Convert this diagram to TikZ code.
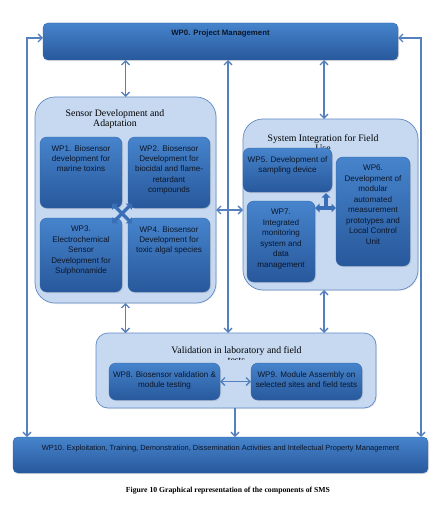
\documentclass[tikz,border=0pt]{standalone}
\usepackage{fontspec}
\setmainfont{Liberation Serif}
\newfontfamily\arial{Liberation Sans}
\usetikzlibrary{arrows.meta,shadows,calc}
\definecolor{wptop}{RGB}{70,132,204}
\definecolor{wpbot}{RGB}{40,88,156}
\definecolor{wpedge}{RGB}{52,100,168}
\definecolor{grpfill}{RGB}{198,217,241}
\definecolor{grpedge}{RGB}{96,138,196}
\definecolor{linecol}{RGB}{84,128,190}
\definecolor{wptxt}{RGB}{12,22,40}
\definecolor{blockcol}{RGB}{58,110,182}
\tikzset{
  wpbox/.style={rounded corners=7pt, draw=wpedge, line width=0.4pt, top color=wptop, bottom color=wpbot, outer sep=0pt, inner sep=0pt,
    drop shadow={opacity=0.25, shadow xshift=1pt, shadow yshift=-1.2pt}},
  barbox/.style={wpbox, rounded corners=5pt},
  grpbox/.style={draw=grpedge, fill=grpfill, line width=0.7pt, outer sep=0pt, inner sep=0pt,
    drop shadow={opacity=0.15, shadow xshift=1pt, shadow yshift=-1pt}},
  wptext/.style={font=\arial\fontsize{8.1}{10.45}\selectfont, align=center, inner sep=0pt, anchor=north, text=wptxt},
  grptitle/.style={font=\fontsize{9.8}{10}\selectfont, align=center, inner sep=0pt, anchor=north, text=black},
  conn/.style={draw=linecol, line width=1.3pt, {Straight Barb[length=4pt,width=8pt]}-{Straight Barb[length=4pt,width=8pt]}},
  conn1/.style={draw=linecol, line width=1.3pt, -{Straight Barb[length=4pt,width=8pt]}},
  blockarr/.style={draw=blockcol, line width=3.2pt, {Triangle[length=4.5pt,width=8.5pt]}-{Triangle[length=4.5pt,width=8.5pt]}},
  blockarr1/.style={draw=blockcol, line width=3.2pt, -{Triangle[length=4.5pt,width=8.5pt]}},
}
\begin{document}
\begin{tikzpicture}[x=1pt,y=-1pt]
\useasboundingbox (0,0) rectangle (444,508);
\fill[white] (0,0) rectangle (444,508);

% group boxes
\node[grpbox, rounded corners=20pt, minimum width=181pt, minimum height=206pt] (sens) at (125.5,200) {};
\node[grpbox, rounded corners=20pt, minimum width=175pt, minimum height=171pt] (sys) at (330.5,204.5) {};
\node[grpbox, rounded corners=12pt, minimum width=280pt, minimum height=75pt] (val) at (236,370.5) {};

% group titles
\node[grptitle] (senst) at (115,109.5) {Sensor Development and\\Adaptation};
\node[grptitle] (syst) at (323,134) {System Integration for Field\\Use};
\begin{scope}
  \clip (96,333) rectangle (376,359.5);
  \node[grptitle] (valt) at (236.5,346.5) {Validation in laboratory and field\\tests};
\end{scope}

% bars
\node[barbox, minimum width=355pt, minimum height=37pt] (wp0) at (220.5,41.5) {};
\node[barbox, minimum width=415pt, minimum height=36pt] (wp10) at (220.5,455) {};

% WP boxes
\node[wpbox, minimum width=82pt, minimum height=71pt] (wp1) at (81,172.5) {};
\node[wpbox, minimum width=82pt, minimum height=71pt] (wp2) at (169,172.5) {};
\node[wpbox, minimum width=82pt, minimum height=74pt] (wp3) at (81,255) {};
\node[wpbox, minimum width=82pt, minimum height=74pt] (wp4) at (169,255) {};
\node[wpbox, minimum width=89pt, minimum height=44pt] (wp5) at (287.5,170) {};
\node[wpbox, minimum width=74pt, minimum height=109pt] (wp6) at (373,211.5) {};
\node[wpbox, minimum width=68pt, minimum height=81pt] (wp7) at (281,241.5) {};
\node[wpbox, minimum width=111pt, minimum height=37pt] (wp8) at (164.5,381.5) {};
\node[wpbox, minimum width=111pt, minimum height=37pt] (wp9) at (306.5,381.5) {};

% texts
\node[wptext, font=\arial\bfseries\fontsize{7.8}{10}\selectfont] (t0) at ($(wp0.north)+(0,7)$) {WP0. Project Management};
\node[wptext, font=\arial\fontsize{7.45}{10}\selectfont] (t10) at ($(wp10.north)+(0,8)$) {WP10. Exploitation, Training, Demonstration, Dissemination Activities and Intellectual Property Management};
\node[wptext] (t1) at ($(wp1.north)+(0,8)$) {WP1. Biosensor\\development for\\marine toxins};
\node[wptext] (t2) at ($(wp2.north)+(0,8)$) {WP2. Biosensor\\Development for\\biocidal and flame-\\retardant\\compounds};
\node[wptext] (t3) at ($(wp3.north)+(0,8)$) {WP3.\\Electrochemical\\Sensor\\Development for\\Sulphonamide};
\node[wptext] (t4) at ($(wp4.north)+(0,8)$) {WP4. Biosensor\\Development for\\toxic algal species};
\node[wptext] (t5) at ($(wp5.north)+(0,8)$) {WP5. Development of\\sampling device};
\node[wptext] (t6) at ($(wp6.north)+(0,8)$) {WP6.\\Development of\\modular\\automated\\measurement\\prototypes and\\Local Control\\Unit};
\node[wptext] (t7) at ($(wp7.north)+(0,8)$) {WP7.\\Integrated\\monitoring\\system and\\data\\management};
\node[wptext] (t8) at ($(wp8.north)+(0,8)$) {WP8. Biosensor validation \&\\module testing};
\node[wptext] (t9) at ($(wp9.north)+(0,8)$) {WP9. Module Assembly on\\selected sites and field tests};

% helper coordinates
\coordinate (lx) at (27,38);
\coordinate (rx) at (421,38);
\coordinate (mx) at (228,0);
\coordinate (sx) at (324,0);
\coordinate (vx) at (235,0);
\coordinate (cy) at (0,210);

% connectors
\draw[conn] (wp10.north -| lx) -- (lx) -- (wp0.west |- lx);
\draw[conn] (wp10.north -| rx) -- (rx) -- (wp0.east |- rx);
\draw[conn] (wp0.south -| sens.north) -- (sens.north);
\draw[conn] (wp0.south -| mx) -- (val.north -| mx);
\draw[conn] (wp0.south -| sx) -- (sys.north -| sx);
\draw[conn] (sys.south -| sx) -- (val.north -| sx);
\draw[conn] (sens.south) -- (val.north -| sens.south);
\draw[conn] (sens.east |- cy) -- (sys.west |- cy);
\draw[conn] (wp8.east) -- (wp9.west);
\draw[conn1] (val.south -| vx) -- (wp10.north -| vx);

% block arrows
\coordinate (qa) at (122,213.5);
\draw[blockarr] ($(qa)+(-10,-10)$) -- ($(qa)+(10,10)$);
\draw[blockarr] ($(qa)+(-10,10)$) -- ($(qa)+(10,-10)$);
\coordinate (ta) at (326,208);
\draw[blockarr] ($(ta)+(-11,0)$) -- ($(ta)+(10,0)$);
\draw[blockarr1] (ta) -- ($(ta)+(0,-15)$);

% caption
\node[font=\bfseries\fontsize{7.7}{9}\selectfont, inner sep=0pt] (cap) at (228,491) {Figure 10 Graphical representation of the components of SMS};
\end{tikzpicture}
\end{document}
